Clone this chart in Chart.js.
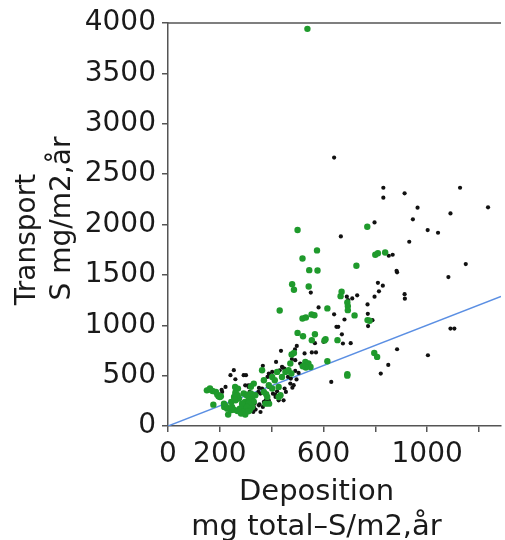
<!DOCTYPE html>
<html><head><meta charset="utf-8">
<script src="https://cdn.jsdelivr.net/npm/chart.js@4/dist/chart.umd.min.js"></script>
<style>html,body{margin:0;padding:0;background:#fff;}canvas{display:block;}</style>
</head><body>
<canvas id="c" width="505" height="540" style="width:505px;height:540px"></canvas>
<script>
const xTicks = [0, 200, 400, 600, 800, 1000, 1200];
const xTickLabels = ['0', '200', '', '600', '', '1000', ''];
const yTicks = [0, 500, 1000, 1500, 2000, 2500, 3000, 3500, 4000];
const yTickLabels = ['0', '500', '1000', '1500', '2000', '2500', '3000', '3500', '4000'];
const xTitle = ['Deposition', 'mg total\u2013S/m2,år'];
const yTitle = ['Transport', 'S mg/m2,år'];
const xMax = 1285;
const yMax = 4000;

const blackX = [641,831,831,913,1127,963,1235,1090,945,797,1002,1042,667,931,852,867,882,884,1149,1082,810,829,814,913,914,730,711,690,695,797,770,551,581,527,641,691,681,771,772,789,650,657,671,675,705,567,600,1090,1105,884,1003,850,821,630,
497,490,436,527,555,571,510,366,440,449,389,402,491,504,463,474,496,472,485,389,421,450,455,480,363,357,349,427,415,446,389,370,383,353,366,338,357,431,442,384,391,351,310,319,340,377,351,332,291,405,414,254,241,260,292,301,222,209,207,298,311,315,286,323,334,318,329,478,491,417];
const blackY = [2664,2365,2266,2309,2365,2167,2170,2110,2051,2021,1945,1918,1882,1829,1690,1700,1540,1525,1607,1478,1421,1393,1337,1308,1264,1297,1266,1284,1249,1284,1207,1324,1177,1082,1108,1143,1057,1113,992,1050,984,984,910,819,822,822,835,967,967,762,702,606,520,437,
795,760,746,720,730,730,620,597,587,570,521,537,547,527,487,471,462,421,405,388,345,372,338,380,372,322,338,255,288,255,255,239,222,215,189,163,139,553,580,487,513,378,404,404,311,255,205,182,123,321,311,554,504,464,504,504,388,338,360,404,388,338,173,272,222,205,139,665,653,636];

const greenX = [538,500,769,575,519,545,577,800,810,838,727,479,486,543,670,666,692,694,694,615,431,720,519,532,554,565,770,778,500,521,567,555,608,604,654,477,486,796,807,615,692,692,
472,530,542,536,550,532,520,363,421,465,476,440,402,412,370,331,320,389,402,370,434,325,331,325,390,376,383,379,427,427,453,
150,159,172,185,195,204,175,232,217,229,242,255,268,277,287,297,259,270,261,255,261,274,302,312,310,328,222,228,247,244,260,269,257,294,286,311,305,315,292,305,320,282,298,310,337,216,190,200,162];
const greenY = [3942,1945,1978,1743,1662,1547,1544,1700,1714,1722,1590,1408,1352,1385,1332,1289,1227,1190,1150,1167,1146,1098,1067,1077,1107,1100,1051,1044,924,891,911,852,862,848,852,709,725,725,686,643,513,500,
620,635,620,603,585,580,593,554,537,554,521,487,487,454,454,421,390,405,372,338,305,288,240,189,222,222,288,315,388,288,537,
354,361,348,338,295,295,212,113,189,172,156,162,149,172,189,239,388,371,338,288,255,272,311,272,229,305,199,179,189,239,322,305,265,146,222,222,189,156,322,305,322,123,113,146,305,222,312,288,372];

const lineX = [0, 1285];
const lineY = [0, 1285];

const zip = (xs, ys) => xs.map((x, i) => ({ x: x, y: ys[i] }));

const FONT = 'DejaVu Sans';
const AXIS = '#555555';
const TEXT = '#1a1a1a';

const framePlugin = {
  id: 'frameAndTitles',
  afterDraw(chart) {
    const ctx = chart.ctx, a = chart.chartArea;
    ctx.save();
    ctx.strokeStyle = AXIS;
    ctx.lineWidth = 1.5;
    ctx.beginPath();
    ctx.moveTo(a.left, a.top);
    ctx.lineTo(a.right, a.top);
    ctx.stroke();
    ctx.fillStyle = TEXT;
    ctx.textAlign = 'center';
    ctx.textBaseline = 'alphabetic';
    ctx.font = '29px "' + FONT + '"';
    const cx = (a.left + a.right) / 2 - 18;
    ctx.fillText(xTitle[0], cx, a.bottom + 74);
    ctx.fillText(xTitle[1], cx, a.bottom + 109);
    ctx.font = '28px "' + FONT + '"';
    const cy = (a.top + a.bottom) / 2;
    ctx.save();
    ctx.translate(a.left - 133, cy + 15);
    ctx.rotate(-Math.PI / 2);
    ctx.fillText(yTitle[0], 0, 0);
    ctx.restore();
    ctx.save();
    ctx.translate(a.left - 98, cy - 6);
    ctx.rotate(-Math.PI / 2);
    ctx.fillText(yTitle[1], 0, 0);
    ctx.restore();
    ctx.restore();
  }
};

new Chart(document.getElementById('c'), {
  type: 'scatter',
  data: {
    datasets: [
      { label: 'Grön', data: zip(greenX, greenY), pointRadius: 3.2, pointBackgroundColor: '#1f9a2c', pointBorderWidth: 0, borderWidth: 0, order: 1 },
      { label: 'Svart', data: zip(blackX, blackY), pointRadius: 2.1, pointBackgroundColor: '#111111', pointBorderWidth: 0, borderWidth: 0, order: 2 },
      { label: '1:1', type: 'line', data: zip(lineX, lineY), borderColor: '#5b8fe3', borderWidth: 1.5, pointRadius: 0, fill: false, order: 3 }
    ]
  },
  options: {
    responsive: false,
    animation: false,
    devicePixelRatio: 1,
    layout: { padding: { top: 23, left: 0, right: 0, bottom: 0 } },
    plugins: { legend: { display: false }, tooltip: { enabled: false } },
    scales: {
      x: {
        type: 'linear', min: 0, max: xMax,
        afterBuildTicks: s => { s.ticks = xTicks.map(v => ({ value: v })); },
        afterFit: s => { s.height = 114; },
        ticks: { callback: v => xTickLabels[xTicks.indexOf(v)], font: { family: FONT, size: 28 }, color: TEXT, padding: 6, maxRotation: 0, autoSkip: false },
        grid: { drawOnChartArea: false, drawTicks: true, tickLength: 6, color: AXIS, lineWidth: 1.5 },
        border: { display: true, color: AXIS, width: 1.5 }
      },
      y: {
        type: 'linear', min: 0, max: yMax,
        afterBuildTicks: s => { s.ticks = yTicks.map(v => ({ value: v })); },
        afterFit: s => { s.width = 168; },
        ticks: { callback: v => yTickLabels[yTicks.indexOf(v)], font: { family: FONT, size: 28 }, color: TEXT, padding: 6, autoSkip: false },
        grid: { drawOnChartArea: false, drawTicks: true, tickLength: 6, color: AXIS, lineWidth: 1.5 },
        border: { display: true, color: AXIS, width: 1.5 }
      }
    }
  },
  plugins: [framePlugin]
});
</script>
</body></html>
